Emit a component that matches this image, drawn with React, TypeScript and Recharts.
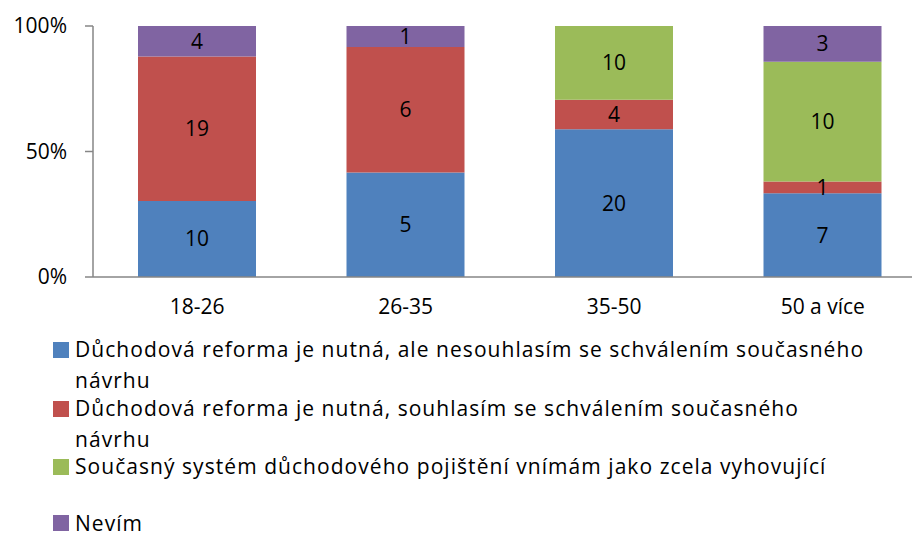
import React from 'react';
import { BarChart, Bar, XAxis, YAxis, LabelList } from 'recharts';

const categories = ['18-26', '26-35', '35-50', '50 a více'];

const nesouhlasim = [10, 5, 20, 7];
const souhlasim = [19, 6, 4, 1];
const vyhovujici = [0, 0, 10, 10];
const nevim = [4, 1, 0, 3];

const yTicks = [0, 0.5, 1];

const series = [
    { key: 'nesouhlasim', values: nesouhlasim, color: '#4F81BD', name: 'Důchodová reforma je nutná, ale nesouhlasím se schválením současného návrhu' },
    { key: 'souhlasim', values: souhlasim, color: '#C0504D', name: 'Důchodová reforma je nutná, souhlasím se schválením současného návrhu' },
    { key: 'vyhovujici', values: vyhovujici, color: '#9BBB59', name: 'Současný systém důchodového pojištění vnímám jako zcela vyhovující' },
    { key: 'nevim', values: nevim, color: '#8064A2', name: 'Nevím' },
];

const data = categories.map((cat, i) => {
    const row: any = { cat };
    series.forEach(s => { row[s.key] = s.values[i]; });
    return row;
});

const FONT = '"Open Sans", Lato, sans-serif';
const axisColor = '#868686';

export default function App() {
    return (
        <div style={{ position: 'absolute', left: 0, top: 0, width: 912, height: 536, overflow: 'hidden', background: '#fff', fontFamily: FONT }}>
            <BarChart
                width={945}
                height={340}
                data={data}
                stackOffset="expand"
                margin={{ top: 26, right: 18, bottom: 0, left: 0 }}
                barSize={118}
            >
                <XAxis
                    dataKey="cat"
                    tickLine={false}
                    axisLine={{ stroke: axisColor, strokeWidth: 1.5 }}
                    tick={{ fill: '#000', fontSize: 21, fontFamily: FONT }}
                    tickMargin={16}
                    height={63}
                />
                <YAxis
                    ticks={yTicks}
                    domain={[0, 1]}
                    tickFormatter={(v: number) => `${Math.round(v * 100)}%`}
                    axisLine={{ stroke: axisColor, strokeWidth: 1.5 }}
                    tickLine={{ stroke: axisColor, strokeWidth: 1.5 }}
                    tickSize={8}
                    tickMargin={18}
                    tick={{ fill: '#000', fontSize: 21, fontFamily: FONT }}
                    width={93}
                />
                {series.map(s => (
                    <Bar key={s.key} dataKey={s.key} stackId="a" fill={s.color} isAnimationActive={false}>
                        <LabelList
                            dataKey={s.key}
                            position="center"
                            formatter={(v: any) => (v ? v : '')}
                            style={{ fill: '#000', fontSize: 21, fontFamily: FONT }}
                        />
                    </Bar>
                ))}
            </BarChart>
            {/* legend: one block per series, each two lines tall like the Excel original */}
            <div style={{ position: 'absolute', left: 53, top: 334, width: 840 }}>
                {series.map((s, i) => {
                    const last = i === series.length - 1;
                    return (
                        <div key={s.key} style={{ display: 'flex', alignItems: 'flex-start', height: last ? 25 : 58.5 }}>
                            <span style={{ display: 'inline-block', width: 16, height: 16, background: s.color, marginTop: last ? 5 : 8, marginRight: 6, flexShrink: 0 }} />
                            <span style={{ fontSize: 21, lineHeight: last ? '24px' : '31px', marginTop: last ? 1 : 0, letterSpacing: 1.05, color: '#000', width: 791, display: 'block' }}>
                                {s.name}
                            </span>
                        </div>
                    );
                })}
            </div>
        </div>
    );
}
